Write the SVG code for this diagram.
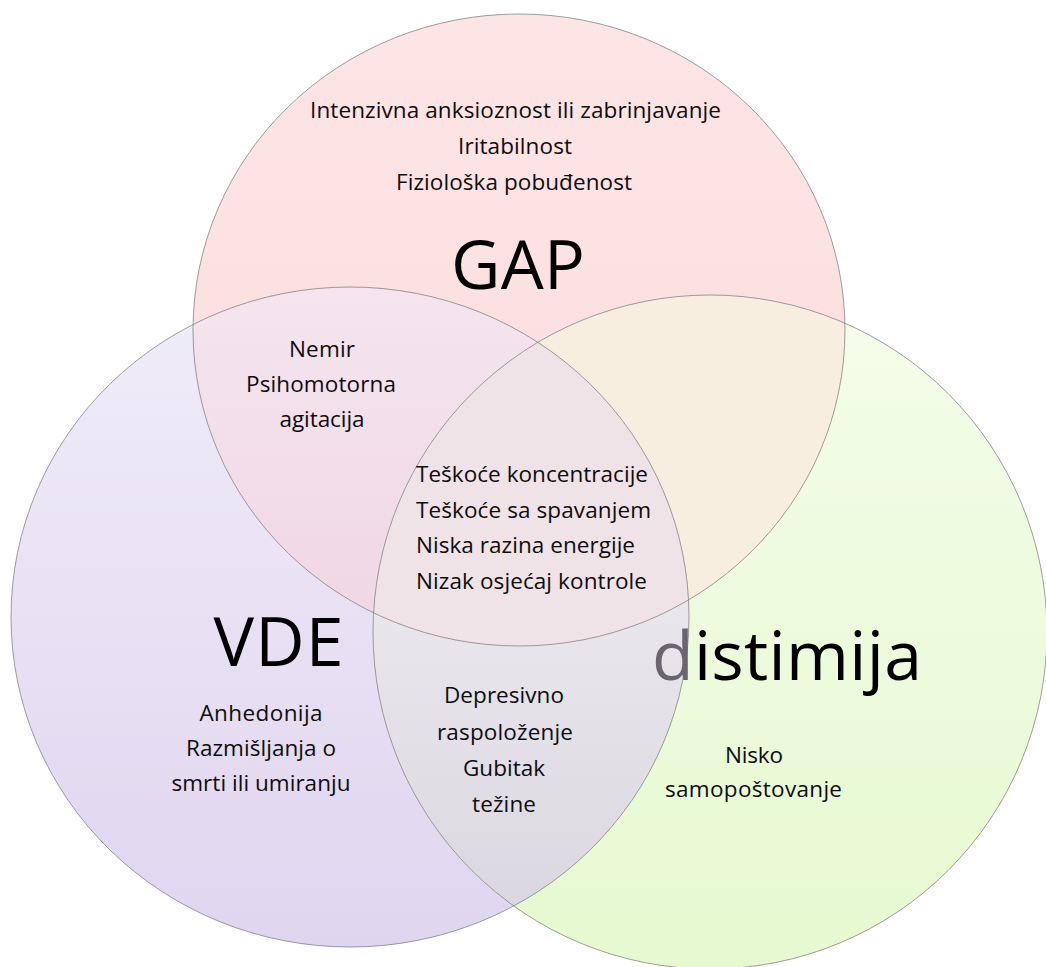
<svg xmlns="http://www.w3.org/2000/svg" width="1046" height="967" viewBox="0 0 1046 967">
<style>
.t{font-family:"Open Sans","Noto Sans",sans-serif;font-size:22.5px;fill:#0d0d0d}
.c{text-anchor:middle}
.big{font-size:68px;fill:#000}
.edge{fill:none;stroke:#7d7d7d;stroke-opacity:0.75;stroke-width:1}
</style>
<defs>
<linearGradient id="gV" gradientUnits="userSpaceOnUse" x1="0" y1="287" x2="0" y2="948">
<stop offset="0" stop-color="#f0edf9"/><stop offset="1" stop-color="#e0d5ef"/>
</linearGradient>
<linearGradient id="gG" gradientUnits="userSpaceOnUse" x1="0" y1="294" x2="0" y2="967">
<stop offset="0" stop-color="#f4fdea"/><stop offset="1" stop-color="#e6f9d0"/>
</linearGradient>
<linearGradient id="gP" gradientUnits="userSpaceOnUse" x1="0" y1="14" x2="0" y2="646">
<stop offset="0" stop-color="#fde5e5"/><stop offset="1" stop-color="#fcdcdd"/>
</linearGradient>
<linearGradient id="gPV" gradientUnits="userSpaceOnUse" x1="0" y1="290" x2="0" y2="620">
<stop offset="0" stop-color="#f4e5ee"/><stop offset="1" stop-color="#f0d7e4"/>
</linearGradient>
<linearGradient id="gVG" gradientUnits="userSpaceOnUse" x1="0" y1="600" x2="0" y2="910">
<stop offset="0" stop-color="#e9e7ec"/><stop offset="1" stop-color="#dbd7e0"/>
</linearGradient>
<clipPath id="cGAP"><ellipse cx="519" cy="330" rx="326" ry="316"/></clipPath>
<clipPath id="cVDE"><ellipse cx="350" cy="617" rx="339" ry="330"/></clipPath>
<clipPath id="cDIS"><circle cx="710" cy="632" r="337"/></clipPath>
</defs>
<rect width="1046" height="967" fill="#ffffff"/>

<g id="vde-fill"><ellipse cx="350" cy="617" rx="339" ry="330" fill="url(#gV)"/></g>
<g id="distimija-fill"><circle cx="710" cy="632" r="337" fill="url(#gG)"/></g>
<g id="gap-fill"><ellipse cx="519" cy="330" rx="326" ry="316" fill="url(#gP)"/></g>
<g id="overlap-fills">
<ellipse cx="350" cy="617" rx="339" ry="330" fill="url(#gPV)" clip-path="url(#cGAP)"/>
<circle cx="710" cy="632" r="337" fill="#f8eee0" clip-path="url(#cGAP)"/>
<ellipse cx="350" cy="617" rx="339" ry="330" fill="url(#gVG)" clip-path="url(#cDIS)"/>
<g clip-path="url(#cDIS)"><ellipse cx="519" cy="330" rx="326" ry="316" fill="#efe3e7" clip-path="url(#cVDE)"/></g>
</g>
<g id="outlines">
<ellipse class="edge" cx="519" cy="330" rx="326" ry="316"/>
<ellipse class="edge" cx="350" cy="617" rx="339" ry="330"/>
<circle class="edge" cx="710" cy="632" r="337"/>
</g>
<g id="connectors"/>

<g id="gap">
<text class="t c" x="515.5" y="118" textLength="411">Intenzivna anksioznost ili zabrinjavanje</text>
<text class="t c" x="515" y="154" textLength="114">Iritabilnost</text>
<text class="t c" x="514" y="190" textLength="236">Fiziološka pobuđenost</text>
<text class="t c big" x="518" y="289" textLength="134">GAP</text>
</g>
<g id="gap-vde">
<text class="t c" x="322" y="357" textLength="66">Nemir</text>
<text class="t c" x="321" y="392" textLength="150">Psihomotorna</text>
<text class="t c" x="322" y="427" textLength="85">agitacija</text>
</g>
<g id="all-three">
<text class="t" x="416" y="482" textLength="232">Teškoće koncentracije</text>
<text class="t" x="416" y="517.5" textLength="235">Teškoće sa spavanjem</text>
<text class="t" x="416" y="553" textLength="219">Niska razina energije</text>
<text class="t" x="416" y="588.5" textLength="231">Nizak osjećaj kontrole</text>
</g>
<g id="vde">
<text class="t c big" x="278.5" y="666" textLength="130">VDE</text>
<text class="t c" x="261" y="721" textLength="123">Anhedonija</text>
<text class="t c" x="261" y="756" textLength="150">Razmišljanja o</text>
<text class="t c" x="261" y="791" textLength="179">smrti ili umiranju</text>
</g>
<g id="vde-distimija">
<text class="t c" x="504" y="703" textLength="120">Depresivno</text>
<text class="t c" x="505" y="740" textLength="136">raspoloženje</text>
<text class="t c" x="504" y="776" textLength="82">Gubitak</text>
<text class="t c" x="504" y="812" textLength="64">težine</text>
</g>
<g id="distimija">
<text class="t big" x="652" y="680" textLength="270"><tspan fill="#6b6570">d</tspan>istimija</text>
<text class="t c" x="754" y="763" textLength="58">Nisko</text>
<text class="t c" x="753.5" y="797" textLength="177">samopoštovanje</text>
</g>
</svg>
